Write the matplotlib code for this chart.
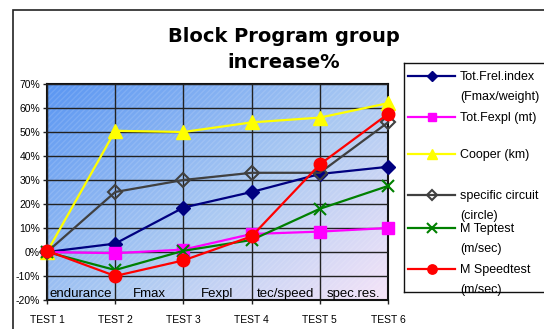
import numpy as np
import matplotlib
matplotlib.use("Agg")
import matplotlib.pyplot as plt
from matplotlib.patches import Rectangle
from matplotlib.lines import Line2D

plt.rcParams['font.family'] = ['Liberation Sans', 'DejaVu Sans']

tests = ["TEST 1", "TEST 2", "TEST 3", "TEST 4", "TEST 5", "TEST 6"]
phases = ["endurance", "Fmax", "Fexpl", "tec/speed", "spec.res."]

frel_index = [0, 3.5, 18.5, 25, 32.5, 35.5]
fexpl = [0, -0.5, 1, 7.5, 8.5, 10]
cooper = [0, 50.5, 50, 54, 56, 62]
circuit = [0, 25, 30, 33, 33, 54]
teptest = [0, -7.5, 0.5, 5, 18, 27.5]
speedtest = [0.5, -10, -3.5, 6.5, 36.5, 57.5]

labels = ["Tot.Frel.index\n(Fmax/weight)", "Tot.Fexpl (mt)", "Cooper (km)",
          "specific circuit\n(circle)", "M Teptest\n(m/sec)", "M Speedtest\n(m/sec)"]

W, H = 544, 329
fig = plt.figure(figsize=(W / 100, H / 100), dpi=100)

# outer chart border
fig.add_artist(Rectangle((13 / W, -0.1), 1.2, 1.1 - 10 / H, transform=fig.transFigure,
                         fill=False, edgecolor='#222222', lw=1.2))

ax = fig.add_axes([47 / W, 1 - 300 / H, (388 - 47) / W, (300 - 84) / H])
x = np.arange(len(tests))

# gradient background
gx, gy = np.meshgrid(np.linspace(0, 1, 200), np.linspace(0, 1, 200))
t = np.clip((gx * 0.65 + gy * 0.55) / 1.2, 0, 1)[..., None]
c0 = np.array([90, 150, 242]) / 255
c1 = np.array([172, 202, 242]) / 255
c2 = np.array([246, 228, 248]) / 255
img = np.where(t < 0.55, c0 + (c1 - c0) * (t / 0.55), c1 + (c2 - c1) * ((t - 0.55) / 0.45))
ax.imshow(img, extent=(0, 5, -20, 70), origin='upper', aspect='auto', zorder=0)
ax.add_patch(Rectangle((0, -20), 5, 90, fill=False, hatch='//////', edgecolor=(1, 1, 1, 0.12),
                       lw=0, zorder=0.5))

ax.set_xlim(0, 5)
ax.set_ylim(-20, 70)
ax.set_yticks(np.arange(-20, 71, 10))
ax.set_yticklabels([f"{v}%" for v in range(-20, 71, 10)], fontsize=7.5)
ax.set_xticks(x)
ax.set_xticklabels(tests, fontsize=7.5)
ax.tick_params(axis='both', length=3, width=1, color='#222222', pad=8)
ax.tick_params(axis='y', pad=2)
ax.grid(True, color='#222222', lw=1)
ax.set_axisbelow(False)
for s in ax.spines.values():
    s.set_color('#111111')
    s.set_linewidth(1.5)

styles = [
    (frel_index, dict(color='#000080', marker='D', ms=7, mfc='#000080', mec='#000080')),
    (fexpl, dict(color='#FF00FF', marker='s', ms=8, mfc='#FF00FF', mec='#FF00FF')),
    (cooper, dict(color='#FFFF00', marker='^', ms=10, mfc='#FFFF00', mec='#FFFF00')),
    (circuit, dict(color='#404040', marker='D', ms=7, mfc='none', mec='#404040', mew=1.5)),
    (teptest, dict(color='#008000', marker='x', ms=9, mew=1.5)),
    (speedtest, dict(color='#FF0000', marker='o', ms=9, mfc='#FF0000', mec='#FF0000')),
]
for vals, st in styles:
    ax.plot(x, vals, lw=1.6, clip_on=False, zorder=3, **st)

for i, p in enumerate(phases):
    ax.text(i + 0.5, -17.3, p, ha='center', va='center', fontsize=9.5, zorder=4)

fig.text(284 / W, 1 - 37 / H, "Block Program group", ha='center', va='center',
         fontsize=14, fontweight='bold', family='DejaVu Sans')
fig.text(284 / W, 1 - 62 / H, "increase%", ha='center', va='center',
         fontsize=14, fontweight='bold', family='DejaVu Sans')

# legend box drawn in pixel coordinates
lax = fig.add_axes([404 / W, 1 - 292 / H, 200 / W, (292 - 63) / H])
lax.set_xlim(404, 604)
lax.set_ylim(292, 63)
lax.set_xticks([])
lax.set_yticks([])
for s in lax.spines.values():
    s.set_color('#111111')
    s.set_linewidth(1)
rows = [76, 117, 154, 195, 228, 269]
for (vals, st), lab, yy in zip(styles, labels, rows):
    kw = dict(st)
    kw['ms'] = kw['ms'] * 0.75
    lax.add_line(Line2D([408, 455], [yy, yy], lw=1.6, **{k: v for k, v in kw.items() if k != 'marker'}))
    lax.plot([432], [yy], marker=kw['marker'], ms=kw['ms'], color=kw['color'],
             mfc=kw.get('mfc', kw['color']), mec=kw.get('mec', kw['color']), mew=kw.get('mew', 1))
    lines = lab.split("\n")
    for j, ln in enumerate(lines):
        lax.text(460, yy + 1 + j * 20, ln, ha='left', va='center', fontsize=9)

fig.savefig("out.png", dpi=100)
